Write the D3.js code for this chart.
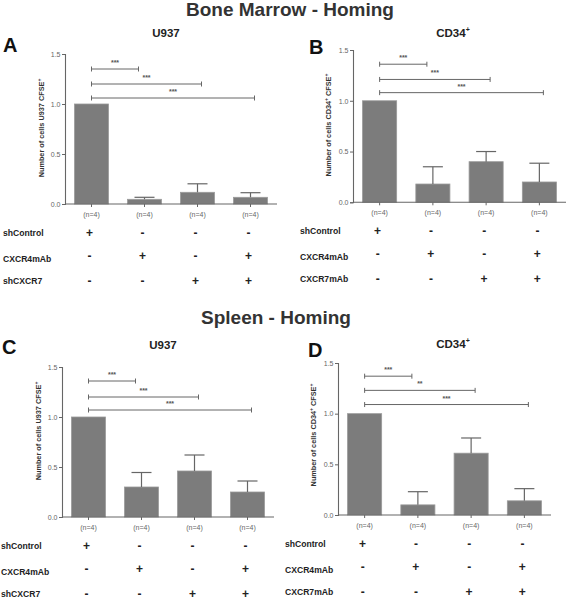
<!DOCTYPE html>
<html><head><meta charset="utf-8">
<script src="https://cdn.jsdelivr.net/npm/d3@7"></script>
<style>html,body{margin:0;padding:0;background:#fff;}svg{display:block;font-family:"Liberation Sans",Arial,sans-serif;}</style>
</head><body>
<svg id="chart" width="567" height="600"></svg>
<script>
// ---- data ----
const categories = ["g1", "g2", "g3", "g4"];
const nLabels = ["(n=4)", "(n=4)", "(n=4)", "(n=4)"];
const yTicks = [0.0, 0.5, 1.0, 1.5];

const valuesA = [1.0, 0.047, 0.117, 0.067];
const semA    = [0, 0.02, 0.085, 0.046];
const valuesB = [1.0, 0.18, 0.40, 0.20];
const semB    = [0, 0.17, 0.10, 0.185];
const valuesC = [1.0, 0.30, 0.46, 0.25];
const semC    = [0, 0.145, 0.16, 0.11];
const valuesD = [1.0, 0.10, 0.61, 0.14];
const semD    = [0, 0.13, 0.15, 0.12];

const bracketLevelsA = [1.35, 1.20, 1.06];
const bracketLevelsB = [1.36, 1.21, 1.08];
const bracketLevelsC = [1.36, 1.20, 1.07];
const bracketLevelsD = [1.37, 1.23, 1.09];
const bracketTargets = [1, 2, 3];
const sigA = ["***", "***", "***"];
const sigB = ["***", "***", "***"];
const sigC = ["***", "***", "***"];
const sigD = ["***", "**", "***"];

const rowLabelsU937 = ["shControl", "CXCR4mAb", "shCXCR7"];
const rowLabelsCD34 = ["shControl", "CXCR4mAb", "CXCR7mAb"];
const signs = [["+", "-", "-", "-"], ["-", "+", "-", "+"], ["-", "-", "+", "+"]];

const sectionTitles = ["Bone Marrow - Homing", "Spleen - Homing"];

// ---- layout ----
const svg = d3.select("#chart");
const barFill = "#7c7c7c", axisCol = "#666", tickTextCol = "#666";

svg.append("text").attr("x", 290).attr("y", 16).attr("text-anchor", "middle")
  .attr("font-size", 19).attr("font-weight", "bold").attr("fill", "#333").text(sectionTitles[0]);
svg.append("text").attr("x", 276).attr("y", 324).attr("text-anchor", "middle")
  .attr("font-size", 19).attr("font-weight", "bold").attr("fill", "#333").text(sectionTitles[1]);

const panels = [
  {letter: "A", lx: 3, ly: 52, title: "U937", sup: false, tx: 166, ty: 37, x0: 65, x1: 277, y0: 204, y1: 54,
   vals: valuesA, sem: semA, br: bracketLevelsA, sig: sigA, rows: rowLabelsU937, rowX: 3,
   ylab: "Number of cells U937 CFSE", ylabSup: false, ylx: 44, yly: 128},
  {letter: "B", lx: 309, ly: 54, title: "CD34", sup: true, tx: 453, ty: 37, x0: 353, x1: 566, y0: 202.3, y1: 50,
   vals: valuesB, sem: semB, br: bracketLevelsB, sig: sigB, rows: rowLabelsCD34, rowX: 300,
   ylab: "Number of cells CD34", ylabSup: true, ylx: 331, yly: 125},
  {letter: "C", lx: 2, ly: 354, title: "U937", sup: false, tx: 163, ty: 349, x0: 62, x1: 274, y0: 517, y1: 367,
   vals: valuesC, sem: semC, br: bracketLevelsC, sig: sigC, rows: rowLabelsU937, rowX: 1,
   ylab: "Number of cells U937 CFSE", ylabSup: false, ylx: 41, yly: 431},
  {letter: "D", lx: 308, ly: 357, title: "CD34", sup: true, tx: 453, ty: 348, x0: 338, x1: 551, y0: 515, y1: 363,
   vals: valuesD, sem: semD, br: bracketLevelsD, sig: sigD, rows: rowLabelsCD34, rowX: 285,
   ylab: "Number of cells CD34", ylabSup: true, ylx: 316, yly: 435}
];

panels.forEach(p => {
  const g = svg.append("g");
  const x = d3.scaleBand().domain(categories).range([p.x0, p.x1]).paddingInner(0.36).paddingOuter(0.18);
  const y = d3.scaleLinear().domain([0, 1.5]).range([p.y0, p.y1]);
  const cx = c => x(c) + x.bandwidth() / 2;

  g.append("text").attr("x", p.lx).attr("y", p.ly).attr("font-size", 20).attr("font-weight", "bold")
    .attr("fill", "#111").text(p.letter);
  const t = g.append("text").attr("x", p.tx).attr("y", p.ty).attr("text-anchor", "middle")
    .attr("font-size", 11.5).attr("font-weight", "bold").attr("fill", "#222").text(p.title);
  if (p.sup) t.append("tspan").attr("dy", -5).attr("font-size", 7).text("+");

  const yl = g.append("text").attr("transform", `translate(${p.ylx},${p.yly}) rotate(-90)`)
    .attr("text-anchor", "middle").attr("font-size", 7.3).attr("font-weight", "bold").attr("fill", "#333");
  if (p.ylabSup) {
    yl.append("tspan").text(p.ylab);
    yl.append("tspan").attr("dy", -3).attr("font-size", 5).text("+");
    yl.append("tspan").attr("dy", 3).text(" CFSE");
  } else {
    yl.append("tspan").text(p.ylab);
  }
  yl.append("tspan").attr("dy", -3).attr("font-size", 5).text("+");

  g.selectAll("rect.bar").data(categories).enter().append("rect")
    .attr("x", c => x(c)).attr("width", x.bandwidth())
    .attr("y", (c, i) => y(p.vals[i])).attr("height", (c, i) => y(0) - y(p.vals[i]))
    .attr("fill", barFill).attr("stroke", "#9a9a9a").attr("stroke-width", 0.8);

  categories.forEach((c, i) => {
    if (p.sem[i] <= 0) return;
    const top = y(p.vals[i] + p.sem[i]);
    g.append("line").attr("x1", cx(c)).attr("x2", cx(c)).attr("y1", y(p.vals[i])).attr("y2", top)
      .attr("stroke", "#666").attr("stroke-width", 1.2);
    g.append("line").attr("x1", cx(c) - 10).attr("x2", cx(c) + 10).attr("y1", top).attr("y2", top)
      .attr("stroke", "#666").attr("stroke-width", 1.2);
  });

  const yAxis = d3.axisLeft(y).tickValues(yTicks).tickFormat(d3.format(".1f")).tickSize(3).tickPadding(1.5);
  const ya = g.append("g").attr("transform", `translate(${p.x0},0)`).call(yAxis);
  ya.select(".domain").attr("stroke", axisCol).attr("stroke-width", 1.1);
  ya.selectAll(".tick line").attr("stroke", axisCol);
  ya.selectAll(".tick text").attr("fill", tickTextCol).attr("font-size", 7).attr("font-family", "Liberation Sans, Arial, sans-serif");

  const xAxis = d3.axisBottom(x).tickSize(3).tickFormat(() => "");
  const xa = g.append("g").attr("transform", `translate(0,${p.y0})`).call(xAxis);
  xa.select(".domain").attr("stroke", axisCol).attr("stroke-width", 1.1).attr("d", `M${p.x0},0H${p.x1}`);
  xa.selectAll(".tick line").attr("stroke", axisCol);

  g.selectAll("text.n").data(categories).enter().append("text")
    .attr("x", c => cx(c)).attr("y", p.y0 + 12.5).attr("text-anchor", "middle")
    .attr("font-size", 7).attr("fill", "#666").text((c, i) => nLabels[i]);

  const endOff = [-6, 4, 4];
  p.br.forEach((lvl, k) => {
    const xs = cx(categories[0]);
    const xe = cx(categories[bracketTargets[k]]) + endOff[k];
    const yy = y(lvl);
    g.append("line").attr("x1", xs).attr("x2", xe).attr("y1", yy).attr("y2", yy).attr("stroke", "#666").attr("stroke-width", 1);
    [xs, xe].forEach(xx => g.append("line").attr("x1", xx).attr("x2", xx).attr("y1", yy - 2.5).attr("y2", yy + 2.5)
      .attr("stroke", "#666").attr("stroke-width", 1));
    g.append("text").attr("x", (xs + xe) / 2).attr("y", yy - 4).attr("text-anchor", "middle")
      .attr("font-size", 7).attr("font-weight", "bold").attr("fill", "#555").text(p.sig[k]);
  });

  const rowDy = [29, 55, 77];
  p.rows.forEach((lab, r) => {
    g.append("text").attr("x", p.rowX).attr("y", p.y0 + rowDy[r] + 3).attr("font-size", 8.6)
      .attr("font-weight", "bold").attr("fill", "#222").text(lab);
    categories.forEach((c, i) => {
      const s = signs[r][i];
      const sy = p.y0 + rowDy[r] - (r === 1 ? 3 : 0);
      g.append("text").attr("x", cx(c) - 2).attr("y", sy + (s === "+" ? 3.5 : 3.5)).attr("text-anchor", "middle")
        .attr("font-size", 12).attr("font-weight", "bold").attr("fill", "#222").text(s);
    });
  });
});
</script>
</body></html>
